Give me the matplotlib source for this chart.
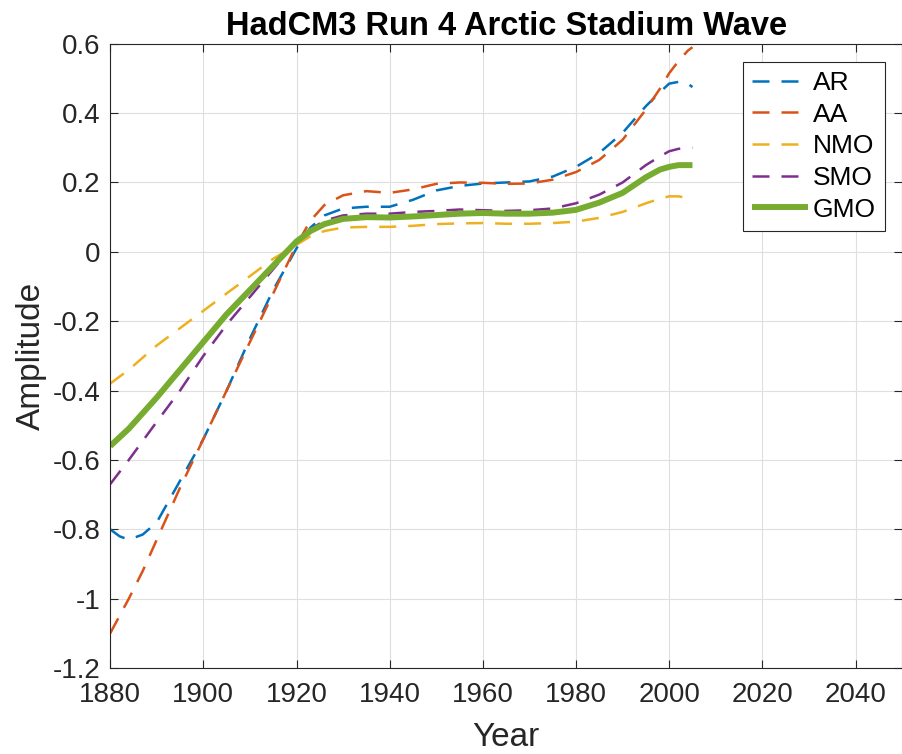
import matplotlib
matplotlib.use("Agg")
import matplotlib.pyplot as plt

plt.rcParams['font.family'] = ['Liberation Sans', 'DejaVu Sans']

years = [1880, 1882, 1884, 1887, 1890, 1895, 1900, 1905, 1910, 1915, 1920, 1923, 1926, 1930,
         1935, 1940, 1945, 1950, 1955, 1960, 1965, 1970, 1975, 1980, 1985, 1990, 1995, 1998,
         2000, 2002, 2004, 2005]
ar = [-0.80, -0.82, -0.83, -0.815, -0.78, -0.66, -0.54, -0.40, -0.25, -0.11, 0.01, 0.07, 0.105,
      0.125, 0.13, 0.13, 0.15, 0.177, 0.19, 0.197, 0.20, 0.203, 0.217, 0.245, 0.285, 0.343, 0.42,
      0.46, 0.485, 0.49, 0.485, 0.475]
aa = [-1.10, -1.05, -1.00, -0.92, -0.83, -0.68, -0.54, -0.40, -0.26, -0.12, 0.02, 0.09, 0.135,
      0.163, 0.175, 0.17, 0.18, 0.196, 0.2, 0.199, 0.196, 0.197, 0.208, 0.23, 0.265, 0.323, 0.41,
      0.47, 0.515, 0.55, 0.58, 0.59]
nmo = [-0.38, -0.36, -0.34, -0.305, -0.27, -0.22, -0.17, -0.12, -0.07, -0.02, 0.02, 0.045, 0.06,
       0.07, 0.072, 0.072, 0.075, 0.08, 0.082, 0.083, 0.081, 0.081, 0.083, 0.087, 0.098, 0.115, 0.14,
       0.153, 0.16, 0.16, 0.155, 0.152]
smo = [-0.67, -0.635, -0.60, -0.545, -0.49, -0.40, -0.30, -0.21, -0.13, -0.05, 0.03, 0.065, 0.09,
       0.105, 0.11, 0.11, 0.115, 0.118, 0.122, 0.12, 0.118, 0.12, 0.125, 0.14, 0.165, 0.20, 0.25,
       0.275, 0.29, 0.297, 0.30, 0.30]
gmo = [-0.56, -0.535, -0.51, -0.465, -0.42, -0.34, -0.26, -0.18, -0.11, -0.04, 0.03, 0.06, 0.08,
       0.095, 0.10, 0.099, 0.102, 0.106, 0.11, 0.112, 0.11, 0.11, 0.113, 0.121, 0.142, 0.17, 0.215,
       0.237, 0.245, 0.25, 0.25, 0.25]

series = [("AR", ar, "#0072BD"), ("AA", aa, "#D95319"), ("NMO", nmo, "#EDB120"),
          ("SMO", smo, "#7E2F8E")]

fig = plt.figure(figsize=(9.03, 7.54), dpi=100)
ax = fig.add_axes([0.122, 0.114, 0.877, 0.828])

for name, vals, col in series:
    ax.plot(years, vals, color=col, lw=1.8, ls=(0, (6.8, 4.8)), label=name)
ax.plot(years, gmo, color="#77AC30", lw=4.3, label="GMO", solid_capstyle='butt')

ax.set_xlim(1880, 2050)
ax.set_ylim(-1.2, 0.6)
ax.set_xticks(range(1880, 2041, 20))
ax.set_yticks([-1.2, -1.0, -0.8, -0.6, -0.4, -0.2, 0, 0.2, 0.4, 0.6])
ax.set_yticklabels(['-1.2', '-1', '-0.8', '-0.6', '-0.4', '-0.2', '0', '0.2', '0.4', '0.6'])
ax.tick_params(direction='in', length=6, width=0.8, labelsize=20, top=True, right=True,
               colors='#262626', labelcolor='#262626')
ax.tick_params(axis='x', pad=10)
ax.tick_params(axis='y', pad=7)
ax.grid(True, color='#dfdfdf', lw=0.8)
for s in ax.spines.values():
    s.set_color('#262626')
    s.set_linewidth(0.8)

ax.set_xlabel("Year", fontsize=24, color='#262626', labelpad=10)
ax.set_ylabel("Amplitude", fontsize=24, color='#262626', labelpad=4)
ax.set_title("HadCM3 Run 4 Arctic Stadium Wave", fontsize=23.5, fontweight='bold', pad=6)

leg = ax.legend(loc='upper right', bbox_to_anchor=(0.9785, 0.971), fontsize=19,
                handlelength=2.1, fancybox=False, framealpha=1, edgecolor='#262626',
                borderpad=0.35, labelspacing=0.29, handletextpad=0.2, borderaxespad=0)
leg.get_frame().set_linewidth(0.8)

fig.savefig("out.png", dpi=100)
